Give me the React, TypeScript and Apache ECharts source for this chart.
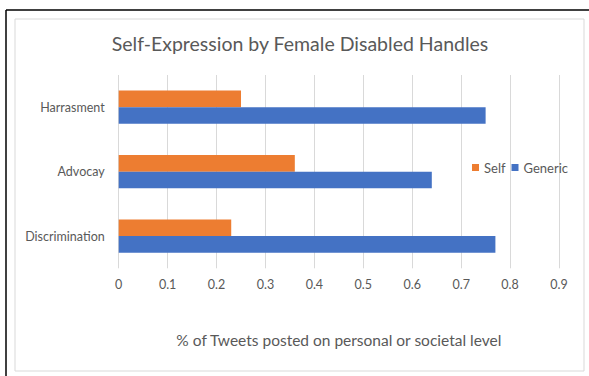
import React, { useEffect, useRef } from "react";
import * as echarts from "echarts";

const categories = ["Discrimination", "Advocay", "Harrasment"];
const selfValues = [0.23, 0.36, 0.25];
const genericValues = [0.77, 0.64, 0.75];
const legendNames = ["Self", "Generic"];

const FONT = "Lato, 'Open Sans', sans-serif";
const GRAY = "#595959";

export default function App() {
  const ref = useRef<HTMLDivElement>(null);
  useEffect(() => {
    document.body.style.margin = "0";
    const chart = echarts.init(ref.current!, null, { renderer: "svg" });
    chart.setOption({
      animation: false,
      backgroundColor: "#ffffff",
      title: {
        text: "Self-Expression by Female Disabled Handles",
        left: 300,
        textAlign: "center",
        top: 33,
        padding: 0,
        textStyle: { fontFamily: FONT, fontSize: 19.5, fontWeight: "normal", color: GRAY },
      },
      graphic: [
        {
          type: "rect",
          shape: { x: 15, y: 19, width: 569, height: 352 },
          style: { fill: "none", stroke: "#d9d9d9", lineWidth: 1 },
          silent: true,
        },
        {
          type: "line",
          shape: { x1: 6, y1: 10, x2: 589, y2: 10 },
          style: { stroke: "#000000", lineWidth: 1.5 },
          silent: true,
        },
        {
          type: "line",
          shape: { x1: 6, y1: 10, x2: 6, y2: 376 },
          style: { stroke: "#000000", lineWidth: 1.5 },
          silent: true,
        },
      ],
      legend: {
        data: legendNames,
        left: 467,
        top: 156,
        itemWidth: 7,
        itemHeight: 7,
        itemGap: 6,
        icon: "rect",
        textStyle: { fontFamily: FONT, fontSize: 13, color: GRAY },
      },
      grid: { left: 118.7, right: 30, top: 75, bottom: 107.7, containLabel: false },
      xAxis: {
        type: "value",
        min: 0,
        max: 0.9,
        interval: 0.1,
        name: "% of Tweets posted on personal or societal level",
        nameLocation: "middle",
        nameGap: 64,
        nameTextStyle: { fontFamily: FONT, fontSize: 15.5, color: GRAY },
        axisLine: { show: false },
        axisTick: { show: false },
        axisLabel: { fontFamily: FONT, fontSize: 12.5, color: GRAY, margin: 10 },
        splitLine: { show: true, lineStyle: { color: "#d9d9d9", width: 1 } },
      },
      yAxis: {
        type: "category",
        data: categories,
        axisLine: { show: false },
        axisTick: { show: false },
        axisLabel: { fontFamily: FONT, fontSize: 12.5, color: GRAY, margin: 14 },
        splitLine: { show: false },
      },
      series: [
        {
          name: "Self",
          type: "bar",
          data: selfValues,
          barWidth: 16.6,
          barGap: "0%",
          itemStyle: { color: "#ED7D31" },
        },
        {
          name: "Generic",
          type: "bar",
          data: genericValues,
          barWidth: 16.6,
          barGap: "0%",
          itemStyle: { color: "#4472C4" },
        },
      ],
    });
    return () => chart.dispose();
  }, []);
  return <div ref={ref} style={{ width: 589, height: 376 }} />;
}
